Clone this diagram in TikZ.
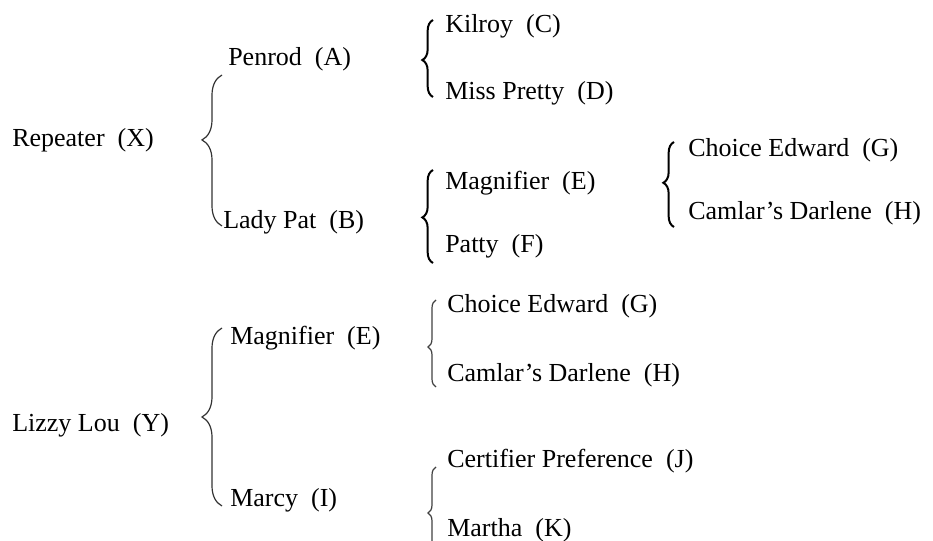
\documentclass[tikz,border=0pt]{standalone}
\usepackage{fontspec}
\setmainfont{Liberation Serif}
\usetikzlibrary{decorations.pathreplacing}

\begin{document}
\begin{tikzpicture}[x=0.75pt,y=-0.75pt,
  horse/.style={anchor=base west,inner sep=0pt,font=\fontsize{19.5}{22}\selectfont},
  bigbrace/.style={draw=black!80,line width=0.9pt,decorate,
    decoration={brace,amplitude=15pt,aspect=#1}},
  thickbrace/.style={draw=black,line width=1.5pt,decorate,
    decoration={brace,amplitude=8pt,aspect=#1}},
  thinbrace/.style={draw=black!75,line width=0.9pt,decorate,
    decoration={brace,amplitude=6pt,aspect=#1}}]
\useasboundingbox (0,0) rectangle (933,541);
\clip (0,0) rectangle (933,541);

% Repeater (X) line
\node[horse] (X) at (12,147) {Repeater\ \ (X)};
\node[horse] (A) at (228,66) {Penrod\ \ (A)};
\node[horse] (B) at (223,229) {Lady Pat\ \ (B)};
\node[horse] (C) at (445,33) {Kilroy\ \ (C)};
\node[horse] (D) at (445,100) {Miss Pretty\ \ (D)};
\node[horse] (E1) at (445,190) {Magnifier\ \ (E)};
\node[horse] (F) at (445,253) {Patty\ \ (F)};
\node[horse] (G1) at (688,157) {Choice Edward\ \ (G)};
\node[horse] (H1) at (688,220) {Camlar's Darlene\ \ (H)};

% Lizzy Lou (Y) line
\node[horse] (Y) at (12,432) {Lizzy Lou\ \ (Y)};
\node[horse] (E2) at (230,345) {Magnifier\ \ (E)};
\node[horse] (I) at (230,507) {Marcy\ \ (I)};
\node[horse] (G2) at (447,313) {Choice Edward\ \ (G)};
\node[horse] (H2) at (447,382) {Camlar's Darlene\ \ (H)};
\node[horse] (J) at (447,468) {Certifier Preference\ \ (J)};
\node[horse] (K) at (447,537) {Martha\ \ (K)};

% brace end points
\coordinate (xt) at (222,75);   \coordinate (xb) at (222,226);
\coordinate (cdt) at (433,20);  \coordinate (cdb) at (433,97);
\coordinate (eft) at (433,170); \coordinate (efb) at (433,263);
\coordinate (ght) at (674,142); \coordinate (ghb) at (674,227);
\coordinate (yt) at (222,328);  \coordinate (yb) at (222,506);
\coordinate (g2t) at (436,300); \coordinate (g2b) at (436,387);
\coordinate (jkt) at (436,467); \coordinate (jkb) at (436,559);

\draw[bigbrace=0.57] (xb) -- (xt);
\draw[thickbrace=0.48] (cdb) -- (cdt);
\draw[thickbrace=0.49] (efb) -- (eft);
\draw[thickbrace=0.52] (ghb) -- (ght);
\draw[bigbrace=0.5] (yb) -- (yt);
\draw[thinbrace=0.46] (g2b) -- (g2t);
\draw[thinbrace=0.5] (jkb) -- (jkt);
\end{tikzpicture}
\end{document}
